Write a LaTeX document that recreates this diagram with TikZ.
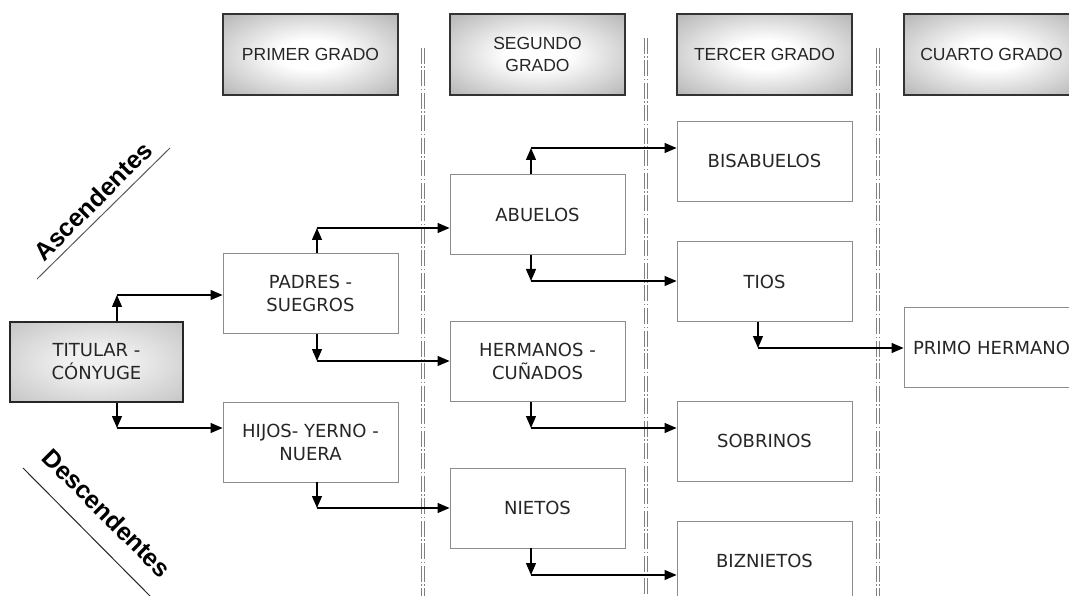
\documentclass[tikz,border=0pt]{standalone}
\usepackage{fontspec}
\newfontfamily\hdfont{Liberation Sans}
\newfontfamily\bxfont{DejaVu Sans}
\usetikzlibrary{arrows.meta}

\pgfdeclareradialshading{cadre}{\pgfpoint{0bp}{0bp}}{color(0bp)=(white); color(9bp)=(white); color(50bp)=(black!45); color(75bp)=(black!48)}
\pgfdeclareradialshading{cadreclair}{\pgfpoint{0bp}{0bp}}{color(0bp)=(white!94!black); color(9bp)=(white!94!black); color(50bp)=(black!32); color(75bp)=(black!35)}

\tikzset{grado/.style = {draw=black!80, line width=1.2pt, shading=cadre,
                         minimum width=175pt, minimum height=81pt, inner sep=0pt, align=center,
                         font=\hdfont\fontsize{17.5}{22}\selectfont, text=black!85},
         caja/.style = {draw=black!45, line width=0.9pt, fill=white,
                        minimum width=175pt, minimum height=80pt, inner sep=0pt, align=center,
                        font=\bxfont\fontsize{18}{23}\selectfont, text=black!85},
         fl/.style = {-{Triangle[length=12pt,width=10pt]}, line width=1.2pt},
         sep/.style = {draw=black!50, line width=0.9pt, double distance=1.4pt,
                       dash pattern=on 16pt off 2.5pt on 1.5pt off 2.5pt},
         lado/.style = {font=\hdfont\bfseries\fontsize{25}{25}\selectfont}
        }

\begin{document}
\begin{tikzpicture}[x=1pt,y=-1pt]
\useasboundingbox (0,0) rectangle (1069,596);
\clip (0,0) rectangle (1069,596);
% separadores
\draw[sep] (423,48) -- (423,596);
\draw[sep] (646,38) -- (646,596);
\draw[sep] (878,48) -- (878,596);
% grados
\node[grado] at (310.5,54.5) (g1) {PRIMER GRADO};
\node[grado] at (537.5,54.5) (g2) {SEGUNDO\\GRADO};
\node[grado] at (764.5,54.5) (g3) {TERCER GRADO};
\node[grado] at (991.5,54.5) (g4) {CUARTO GRADO};
% parientes
\node[caja, shading=cadreclair, draw=black!85, line width=1.1pt, minimum width=173pt] at (96.5,362) (tit) {TITULAR -\\CÓNYUGE};
\node[caja] at (310.5,293.5) (pad) {PADRES -\\SUEGROS};
\node[caja] at (310.5,442) (hij) {HIJOS- YERNO -\\NUERA};
\node[caja] at (537.5,214.5) (abu) {ABUELOS};
\node[caja] at (537.5,361.5) (her) {HERMANOS -\\CUÑADOS};
\node[caja] at (537.5,508) (nie) {NIETOS};
\node[caja] at (764.5,161) (bis) {BISABUELOS};
\node[caja] at (764.5,281.5) (tio) {TIOS};
\node[caja] at (764.5,441) (sob) {SOBRINOS};
\node[caja] at (764.5,561) (biz) {BIZNIETOS};
\node[caja] at (991.5,347.5) (pri) {PRIMO HERMANO};
% esquinas
\coordinate (c1) at (117,295);
\coordinate (c2) at (117,428);
\coordinate (c3) at (317,228);
\coordinate (c4) at (317,361);
\coordinate (c5) at (317,508);
\coordinate (c6) at (531,148);
\coordinate (c7) at (531,281);
\coordinate (c8) at (531,428);
\coordinate (c9) at (531,575);
\coordinate (c10) at (758,348);
% flechas
\draw[fl] (tit.north -| c1) -- (c1);
\draw[fl] (c1) -- (c1 -| pad.west);
\draw[fl] (tit.south -| c2) -- (c2);
\draw[fl] (c2) -- (c2 -| hij.west);
\draw[fl] (pad.north -| c3) -- (c3);
\draw[fl] (c3) -- (c3 -| abu.west);
\draw[fl] (pad.south -| c4) -- (c4);
\draw[fl] (c4) -- (c4 -| her.west);
\draw[fl] (hij.south -| c5) -- (c5);
\draw[fl] (c5) -- (c5 -| nie.west);
\draw[fl] (abu.north -| c6) -- (c6);
\draw[fl] (c6) -- (c6 -| bis.west);
\draw[fl] (abu.south -| c7) -- (c7);
\draw[fl] (c7) -- (c7 -| tio.west);
\draw[fl] (her.south -| c8) -- (c8);
\draw[fl] (c8) -- (c8 -| sob.west);
\draw[fl] (nie.south -| c9) -- (c9);
\draw[fl] (c9) -- (c9 -| biz.west);
\draw[fl] (tio.south -| c10) -- (c10);
\draw[fl] (c10) -- (c10 -| pri.west);
% ascendentes / descendentes
\node[lado, rotate=45] at (93,201) (asc) {Ascendentes};
\draw[black!65, line width=1pt] (37,279) -- (170,148);
\node[lado, rotate=-45] at (107,513) (desc) {Descendentes};
\draw[black!85, line width=1pt] (23,468) -- (150,596);
\end{tikzpicture}
\end{document}
